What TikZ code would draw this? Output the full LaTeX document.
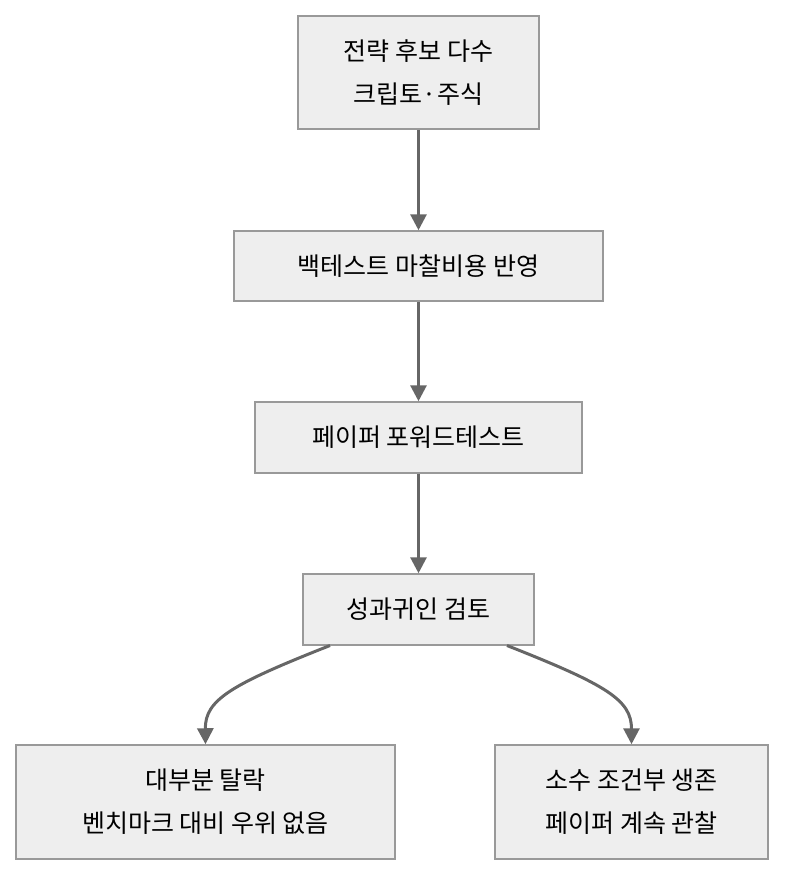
\documentclass[tikz,border=0pt]{standalone}
\usepackage{fontspec}
\newfontfamily\kr{Noto Sans CJK KR}
\usetikzlibrary{arrows.meta}
\definecolor{bx}{HTML}{EEEEEE}
\definecolor{bd}{HTML}{999999}
\definecolor{ar}{HTML}{666666}
\begin{document}
\begin{tikzpicture}[x=1pt,y=-1pt,
 box/.style={draw=bd,fill=bx,line width=1.5pt,align=center,inner sep=0pt,font=\kr\fontsize{25}{43}\selectfont},
 arr/.style={draw=ar,line width=3pt,-{Triangle[length=16pt,width=16pt]}}]
\useasboundingbox (0,0) rectangle (786,876);
\node[box,minimum width=241pt,minimum height=113pt] (a) at (418.5,72.5) {전략 후보 다수\\크립토·주식};
\node[box,minimum width=369pt,minimum height=70pt] (b) at (418.5,266) {백테스트 마찰비용 반영};
\node[box,minimum width=327pt,minimum height=71pt] (c) at (418.5,437.5) {페이퍼 포워드테스트};
\node[box,minimum width=231pt,minimum height=71pt] (d) at (418.5,609.5) {성과귀인 검토};
\node[box,minimum width=379pt,minimum height=114pt] (e) at (205.5,802) {대부분 탈락\\벤치마크 대비 우위 없음};
\node[box,minimum width=273pt,minimum height=114pt] (f) at (631.5,802) {소수 조건부 생존\\페이퍼 계속 관찰};
\draw[arr] (a) -- (b);
\draw[arr] (b) -- (c);
\draw[arr] (c) -- (d);
\coordinate (d1) at (330,645.5);
\coordinate (d2) at (507,645.5);
\draw[arr] (d1) .. controls (230,685) and (205,700) .. (e.north);
\draw[arr] (d2) .. controls (607,685) and (631.5,700) .. (f.north);
\end{tikzpicture}
\end{document}
